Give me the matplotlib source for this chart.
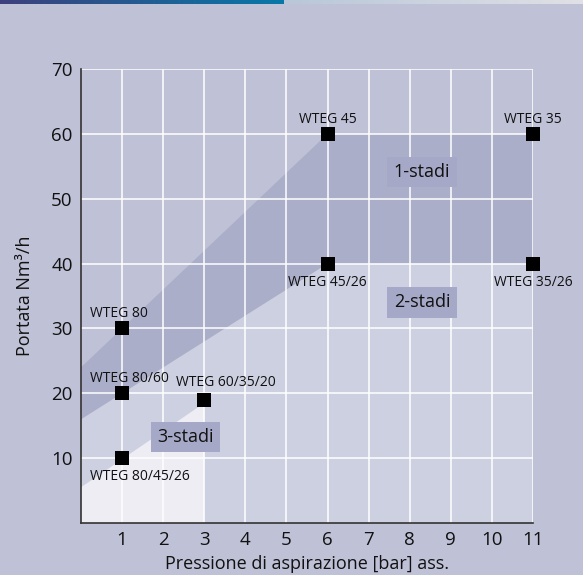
import matplotlib
matplotlib.use("Agg")
import matplotlib.pyplot as plt
from matplotlib import font_manager
from matplotlib.patches import Polygon
import numpy as np

names = {f.name for f in font_manager.fontManager.ttflist}
fam = [n for n in ["Liberation Sans Narrow", "Open Sans", "DejaVu Sans"] if n in names]
plt.rcParams['font.family'] = fam

# data
models = ["WTEG 80", "WTEG 80/60", "WTEG 80/45/26", "WTEG 60/35/20",
          "WTEG 45", "WTEG 45/26", "WTEG 35", "WTEG 35/26"]
pressure = [1, 1, 1, 3, 6, 6, 11, 11]
flow = [30, 20, 10, 19, 60, 40, 60, 40]
# region boundaries (pressure, flow)
stage1_x = [0, 6, 11, 11, 6, 0]
stage1_y = [24, 60, 60, 40, 40, 16]
stage2_x = [0, 6, 11, 11, 0]
stage2_y = [16, 40, 40, 0, 0]
stage3_x = [0, 3, 3, 0]
stage3_y = [5.5, 18.5, 0, 0]
stage_labels = ["1-stadi", "2-stadi", "3-stadi"]
stage_label_pos = [(8.3, 54.1), (8.3, 34.0), (2.55, 13.25)]
xticks = [1, 2, 3, 4, 5, 6, 7, 8, 9, 10, 11]
yticks = [10, 20, 30, 40, 50, 60, 70]

BG = "#BFC1D6"
fig = plt.figure(figsize=(5.83, 5.75), dpi=100, facecolor=BG)
ax = fig.add_axes([81/583, 1-523/575, 452/583, 454/575])
ax.set_facecolor(BG)

ax.add_patch(Polygon(np.column_stack([stage2_x, stage2_y]), closed=True,
                     facecolor="#CDD0E0", edgecolor="none", zorder=1))
ax.add_patch(Polygon(np.column_stack([stage3_x, stage3_y]), closed=True,
                     facecolor="#EDEDF3", edgecolor="none", zorder=1.1))
ax.add_patch(Polygon(np.column_stack([stage1_x, stage1_y]), closed=True,
                     facecolor="#ABAEC8", edgecolor="none", zorder=1.2))

ax.set_xlim(0, 11)
ax.set_ylim(0, 70)
ax.set_xticks(xticks)
ax.set_yticks(yticks)
ax.vlines(xticks, 0, 70, colors="white", lw=1.1, zorder=2)
ax.hlines(yticks, 0, 11, colors="white", lw=1.1, zorder=2)
ax.tick_params(length=0, labelsize=13.5, colors="#111111", pad=6)
for s in ["top", "right"]:
    ax.spines[s].set_visible(False)
for s in ["left", "bottom"]:
    ax.spines[s].set_color("#333333")
    ax.spines[s].set_linewidth(1.2)
    ax.spines[s].set_zorder(5)

ax.scatter(pressure, flow, marker="s", s=88, color="black", zorder=6,
           linewidths=0, clip_on=False)

offsets = {
    "WTEG 80": (-0.78, 1.8, "left", "baseline"),
    "WTEG 80/60": (-0.78, 1.8, "left", "baseline"),
    "WTEG 80/45/26": (-0.78, -1.6, "left", "top"),
    "WTEG 60/35/20": (-0.69, 2.1, "left", "baseline"),
    "WTEG 45": (0.0, 1.6, "center", "baseline"),
    "WTEG 45/26": (0.0, -1.8, "center", "top"),
    "WTEG 35": (0.0, 1.6, "center", "baseline"),
    "WTEG 35/26": (0.0, -1.8, "center", "top"),
}
for m, x, y in zip(models, pressure, flow):
    dx, dy, ha, va = offsets[m]
    ax.text(x + dx, y + dy, m, ha=ha, va=va, fontsize=10, color="#111111",
            zorder=7, clip_on=False)

for lab, (x, y) in zip(stage_labels, stage_label_pos):
    ax.text(x, y, lab, ha="center", va="center", fontsize=13, color="#111111",
            zorder=7, bbox=dict(boxstyle="square,pad=0.35", fc="#A5A8C6", ec="none"))

ax.set_xlabel("Pressione di aspirazione [bar] ass.", fontsize=13, color="#111111", labelpad=4)
ax.set_ylabel("Portata Nm³/h", fontsize=13, color="#111111", labelpad=12)

# top decorative strip
strip = fig.add_axes([0, 1-4/575, 1, 4/575])
strip.axis("off")
grad = np.linspace(0, 1, 300)
c0 = np.array([0.24, 0.25, 0.49]); c1 = np.array([0.03, 0.47, 0.66])
left = c0[None, :] * (1 - grad[:, None]) + c1[None, :] * grad[:, None]
c2 = np.array([0.72, 0.78, 0.85]); c3 = np.array([0.88, 0.88, 0.90])
right = c2[None, :] * (1 - grad[:, None]) + c3[None, :] * grad[:, None]
strip.imshow(left[None, :, :], extent=[0, 284, 0, 1], aspect="auto")
strip.imshow(right[None, :, :], extent=[284, 583, 0, 1], aspect="auto")
strip.set_xlim(0, 583); strip.set_ylim(0, 1)

fig.savefig("out.png", dpi=100, facecolor=BG)
